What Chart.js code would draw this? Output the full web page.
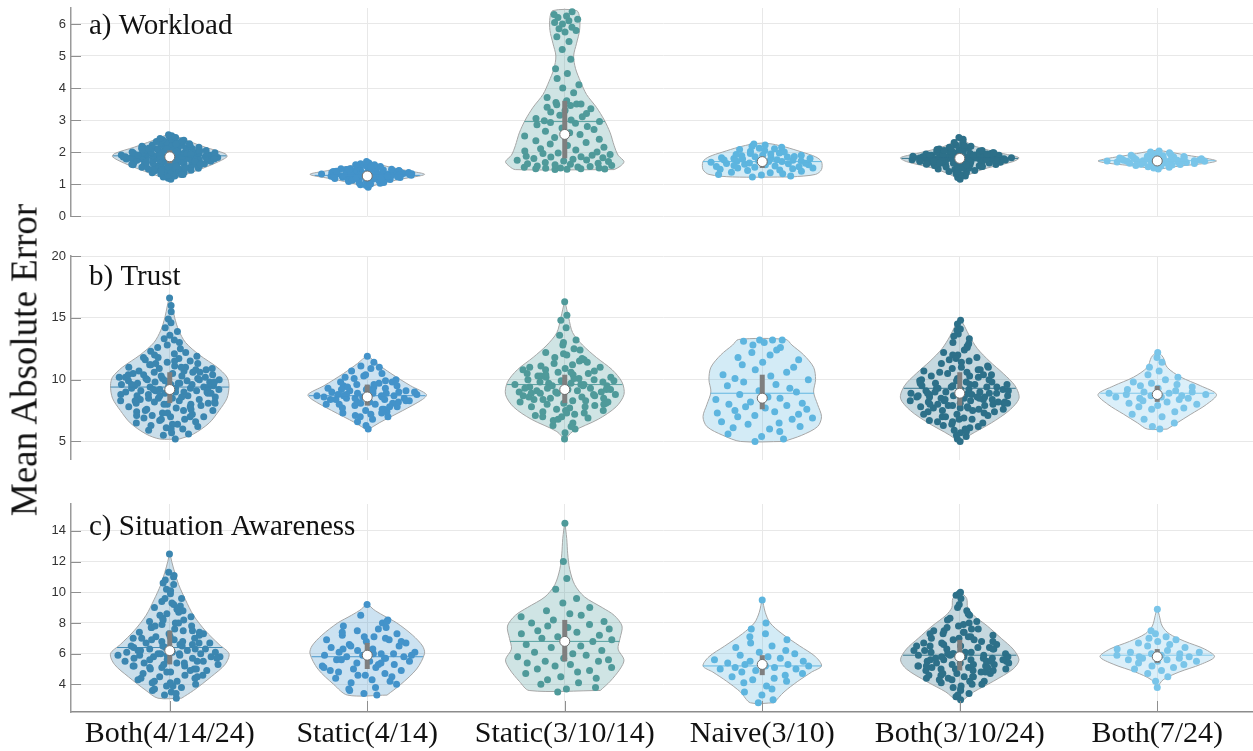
<!DOCTYPE html>
<html>
<head>
<meta charset="utf-8">
<title>Mean Absolute Error</title>
<script src="https://cdn.jsdelivr.net/npm/chart.js@4.4.1/dist/chart.umd.min.js"></script>
<style>
  html, body { margin: 0; padding: 0; background: #fff; overflow: hidden; }
  #wrap { position: relative; width: 1256px; height: 751px; }
  #wrap canvas { position: absolute; left: 0; }
  #yTitle {
    position: absolute; left: 24px; top: 360px;
    transform: translate(-50%, -50%) rotate(-90deg);
    font: 37px "Liberation Serif", "Times New Roman", serif;
    line-height: 1; color: #111; white-space: nowrap;
  }
</style>
</head>
<body>
<div id="wrap">
  <canvas id="workloadChart" width="1256" height="226" style="top:0"></canvas>
  <canvas id="trustChart" width="1256" height="212" style="top:248px"></canvas>
  <canvas id="saChart" width="1256" height="255" style="top:496px"></canvas>
  <div id="yTitle">Mean Absolute Error</div>
</div>
<script>
// ── Shared ────────────────────────────────────────────────────
const CATEGORIES = ['Both(4/14/24)', 'Static(4/14)', 'Static(3/10/14)', 'Naive(3/10)', 'Both(3/10/24)', 'Both(7/24)'];
const COLORS = ['#3b86b0', '#4393ca', '#4f9a9a', '#5db5df', '#2d7089', '#7ac5e9'];

// horizontal spread of each dot, as a fraction of the violin half-width
const JITTER = [
  0.62, -0.35, 0.08, -0.81, 0.47, -0.12, 0.91, -0.58, 0.23, -0.94,
  0.71, -0.27, 0.39, -0.66, 0.02, 0.85, -0.43, 0.54, -0.17, -0.76,
  0.31, 0.97, -0.51, 0.14, -0.88, 0.66, -0.05, 0.44, -0.69, 0.79,
  -0.31, 0.19, -0.98, 0.58, -0.22, 0.05, 0.88, -0.63, 0.35, -0.41,
  0.73, -0.09, -0.84, 0.27, 0.51, -0.55, 0.93, -0.19, 0.11, -0.72,
  0.64, -0.37, 0.82, -0.02, -0.91, 0.42, 0.16, -0.61, 0.76, -0.28,
  0.33, -0.79, 0.57, 0.95, -0.46, -0.14, 0.69, -0.86, 0.24, -0.53,
  0.87, 0.06, -0.33, 0.49, -0.67, 0.81, -0.24, -0.96, 0.37, 0.12,
  -0.48, 0.74, -0.07, 0.59, -0.74, 0.29, -0.39, 0.96, -0.57, 0.18,
  -0.83, 0.52, -0.15, 0.68, -0.45, 0.01, 0.89, -0.62, 0.21, -0.3, 0.45
];

// ── a) Workload ───────────────────────────────────────────────
const wlTicks = [0, 1, 2, 3, 4, 5, 6];
const wlValues = [
  [1.15,1.18,1.2,1.22,1.25,1.27,1.3,1.31,1.33,1.35,1.37,1.39,1.4,1.41,1.42,1.43,1.44,1.45,1.46,1.47,1.48,1.49,1.5,1.51,1.52,1.53,1.54,1.55,1.56,1.57,1.58,1.59,
   1.6,1.61,1.61,1.62,1.63,1.64,1.65,1.65,1.66,1.67,1.68,1.69,1.7,1.7,1.71,1.72,1.73,1.74,1.75,1.75,1.76,1.77,1.78,1.78,1.79,1.79,1.8,1.8,
   1.81,1.81,1.82,1.83,1.83,1.84,1.85,1.85,1.86,1.86,1.87,1.88,1.88,1.89,1.9,1.9,1.9,1.91,1.92,1.92,1.93,1.94,1.94,1.95,1.96,1.96,1.97,1.98,1.98,1.99,2.0,2.0,
   2.01,2.02,2.03,2.04,2.05,2.06,2.07,2.08,2.09,2.1,2.1,2.11,2.12,2.13,2.14,2.15,2.16,2.17,2.18,2.19,2.2,2.2,2.22,2.24,2.26,2.28,2.3,2.31,2.33,2.35,2.37,2.38,2.4,2.42,2.45,2.48,2.51,2.54,
   1.3,1.45,1.55,1.62,1.7,1.76,1.82,1.87,1.91,1.95,2.0,2.05,2.1,2.15,2.25,1.5,1.68,1.78,1.88,1.97,2.08,2.3,1.4,1.6,1.73,1.84,1.93,2.02,2.12,2.35],
  [0.9,0.95,0.98,1.0,1.02,1.04,1.06,1.08,1.1,1.11,1.12,1.13,1.14,1.15,1.16,1.17,1.18,1.19,1.2,1.2,1.21,1.22,1.22,1.23,1.24,1.24,1.25,1.25,1.26,1.27,1.27,1.28,1.28,1.29,1.3,
   1.3,1.3,1.31,1.31,1.32,1.32,1.33,1.33,1.34,1.35,1.35,1.36,1.37,1.37,1.38,1.39,1.4,1.4,1.41,1.42,1.43,1.44,1.45,1.46,1.47,1.48,1.5,1.51,1.53,1.55,1.57,1.6,1.63,1.66,1.7,
   1.05,1.12,1.18,1.22,1.26,1.29,1.31,1.34,1.38,1.42,1.48,1.55,1.2,1.25,1.3,1.33,1.36,1.4,1.15,1.28,1.32,1.45,1.0,1.6,1.24],
  [1.45,1.46,1.47,1.48,1.48,1.49,1.5,1.5,1.52,1.53,1.55,1.56,1.58,1.6,1.62,1.63,1.65,1.67,1.7,1.72,1.74,1.75,1.77,1.8,1.82,1.84,1.85,1.87,1.9,1.92,1.95,1.97,2.0,2.03,2.06,
   2.1,2.15,2.2,2.25,2.3,2.35,2.4,2.45,2.5,2.55,2.6,2.65,2.7,2.75,2.8,2.85,2.9,2.92,2.95,2.98,3.0,3.05,3.1,3.15,3.2,3.25,3.3,3.35,3.4,3.45,3.48,3.5,3.5,3.55,3.6,
   3.7,3.85,4.0,4.1,4.3,4.45,4.6,4.9,5.2,5.45,5.6,5.75,5.8,5.85,5.9,6.0,6.05,6.1,6.15,6.2,6.25,6.3,6.38],
  [1.22,1.25,1.28,1.3,1.32,1.35,1.37,1.4,1.42,1.44,1.46,1.48,1.5,1.5,1.52,1.54,1.55,1.56,1.58,1.6,1.6,1.62,1.63,1.64,1.65,1.66,1.68,1.7,1.7,1.71,
   1.72,1.73,1.74,1.75,1.76,1.78,1.8,1.8,1.81,1.82,1.84,1.85,1.86,1.88,1.9,1.9,1.92,1.94,1.95,1.97,2.0,2.02,2.05,2.08,2.1,2.12,2.15,2.18,2.22,2.25],
  [1.15,1.2,1.25,1.3,1.33,1.36,1.39,1.42,1.45,1.47,1.49,1.51,1.53,1.55,1.56,1.57,1.58,1.59,1.6,1.61,1.62,1.63,1.63,1.64,1.65,1.66,1.66,1.67,1.68,1.68,1.69,1.7,1.7,1.71,
   1.72,1.72,1.73,1.73,1.74,1.75,1.75,1.76,1.76,1.77,1.77,1.78,1.78,1.79,1.79,1.8,1.8,1.8,1.81,1.81,1.82,1.82,1.83,1.83,1.84,1.84,1.85,1.85,1.86,1.86,1.87,1.87,1.88,1.89,
   1.89,1.9,1.9,1.91,1.92,1.93,1.93,1.94,1.95,1.96,1.97,1.98,1.99,2.0,2.01,2.02,2.04,2.05,2.07,2.09,2.11,2.13,2.15,2.18,2.21,2.25,2.3,2.35,2.4,2.45,
   1.4,1.55,1.62,1.68,1.72,1.76,1.8,1.83,1.86,1.9,1.95,2.0,2.08,2.2,1.5,1.65,1.74,1.78,1.82,1.85,1.88,1.92,1.98,2.05,1.6,1.7,1.79,1.84,1.94,2.12],
  [1.47,1.5,1.52,1.54,1.56,1.58,1.59,1.6,1.61,1.62,1.63,1.64,1.65,1.65,1.66,1.67,1.67,1.68,1.68,1.69,1.7,1.7,1.71,1.71,1.72,1.72,1.73,1.73,1.74,1.74,1.75,1.75,
   1.76,1.76,1.77,1.78,1.78,1.79,1.8,1.8,1.81,1.82,1.83,1.84,1.85,1.86,1.87,1.88,1.9,1.92,1.94,1.96,1.98,2.0,2.03]
];
// violin outlines: [value, half-width in category units]
const wlShapes = [
  [[1.13,0],[1.25,0.06],[1.45,0.15],[1.65,0.23],[1.85,0.29],[1.95,0.28],[2.15,0.18],[2.35,0.09],[2.5,0.03],[2.56,0]],
  [[0.88,0],[1.0,0.06],[1.15,0.17],[1.3,0.29],[1.42,0.2],[1.55,0.1],[1.68,0.02],[1.72,0]],
  [[1.45,0.25],[1.55,0.28],[1.7,0.3],[1.9,0.27],[2.2,0.25],[2.6,0.23],[3.0,0.2],[3.4,0.16],[3.8,0.11],[4.2,0.08],[4.6,0.055],[5.0,0.045],[5.4,0.06],[5.8,0.075],[6.2,0.075],[6.42,0.06]],
  [[1.22,0.15],[1.3,0.27],[1.45,0.3],[1.7,0.3],[1.85,0.27],[2.0,0.2],[2.15,0.12],[2.25,0.05],[2.28,0]],
  [[1.12,0],[1.3,0.05],[1.5,0.14],[1.7,0.27],[1.82,0.3],[1.95,0.22],[2.1,0.12],[2.25,0.05],[2.45,0.01],[2.47,0]],
  [[1.45,0],[1.55,0.1],[1.65,0.25],[1.72,0.3],[1.8,0.25],[1.9,0.15],[2.0,0.06],[2.06,0]]
];
const wlMedian = [1.85, 1.25, 2.55, 1.7, 1.8, 1.72];
const wlQ1 = [1.65, 1.15, 1.8, 1.5, 1.65, 1.63];
const wlQ3 = [2.05, 1.38, 3.6, 1.85, 1.92, 1.8];
const wlMean = [1.88, 1.27, 2.95, 1.7, 1.8, 1.73];

// ── b) Trust ──────────────────────────────────────────────────
const trTicks = [5, 10, 15, 20];
const trValues = [
  [5.2,5.5,5.7,5.9,6.0,6.1,6.2,6.3,6.4,6.5,6.6,6.7,6.8,6.9,7.0,7.0,7.1,7.2,7.3,7.4,7.5,7.5,7.6,7.7,7.8,7.9,8.0,8.0,8.1,8.1,8.2,8.3,8.3,8.4,8.5,8.5,8.6,8.7,8.7,8.8,
   8.9,8.9,9.0,9.0,9.1,9.1,9.2,9.2,9.3,9.3,9.4,9.4,9.5,9.5,9.6,9.6,9.7,9.7,9.8,9.8,9.9,9.9,10.0,10.0,10.1,10.1,10.2,10.2,10.3,10.4,10.4,10.5,10.6,10.6,10.7,10.8,10.9,
   11.0,11.0,11.1,11.2,11.3,11.4,11.5,11.6,11.7,11.8,11.9,12.0,12.1,12.3,12.5,12.8,13.0,13.3,13.6,13.9,14.2,14.6,14.9,15.5,16.0,16.6,
   6.4,7.1,7.6,8.0,8.2,8.4,8.6,8.8,9.0,9.1,9.3,9.5,9.6,9.8,10.0,10.1,10.3,10.5,10.7,10.9,11.2,11.5,11.8,12.2,7.3,7.8,8.3,8.9,9.2,9.7,10.2,10.8,6.8,6.0,5.6,
   12.6,13.2,8.5,9.4,9.9,10.4,11.0,7.0,7.5,8.1,8.7,9.0,9.6,10.6,11.3],
  [6.0,6.3,6.6,6.8,7.0,7.1,7.2,7.3,7.4,7.5,7.6,7.7,7.8,7.9,8.0,8.0,8.1,8.2,8.2,8.3,8.4,8.4,8.5,8.5,8.6,8.6,8.7,8.7,8.8,8.8,8.9,8.9,9.0,9.0,9.1,9.1,9.2,
   9.3,9.3,9.4,9.5,9.5,9.6,9.7,9.8,9.9,10.0,10.1,10.3,10.5,10.7,10.9,11.1,11.4,11.9,
   7.0,7.6,8.0,8.3,8.5,8.7,8.9,9.1,9.4,9.8,10.4,7.8,8.4,8.6,8.8,9.0,9.2,9.6,10.2,7.3,8.1,8.2,8.7,9.3,11.0],
  [5.2,5.7,6.0,6.3,6.5,6.7,6.9,7.0,7.1,7.2,7.3,7.4,7.5,7.6,7.7,7.8,7.9,8.0,8.0,8.1,8.2,8.3,8.3,8.4,8.5,8.5,8.6,8.7,8.7,8.8,8.9,8.9,9.0,9.0,9.1,9.1,9.2,9.2,9.3,9.3,
   9.4,9.5,9.5,9.6,9.6,9.7,9.8,9.8,9.9,10.0,10.0,10.1,10.2,10.2,10.3,10.4,10.5,10.5,10.6,10.7,10.8,10.9,11.0,11.1,11.2,11.3,11.5,11.6,11.8,12.0,12.2,12.5,12.8,13.2,13.6,14.2,14.8,15.2,16.3,
   6.2,7.0,7.5,8.1,8.4,8.8,9.0,9.3,9.6,9.9,10.3,10.6,11.0,11.4,12.1,7.8,8.6,9.2,9.7,10.1,10.8,11.7,6.8,7.3,8.2,8.9,9.5,10.4,12.4,13.0],
  [5.0,5.2,5.4,5.6,5.8,6.0,6.1,6.2,6.4,6.5,6.6,6.8,6.9,7.0,7.1,7.2,7.3,7.4,7.5,7.6,7.7,7.8,7.9,8.0,8.1,8.2,8.4,8.5,8.6,8.8,9.0,9.1,9.3,9.5,9.6,9.8,10.0,10.1,10.3,
   10.4,10.6,10.8,11.0,11.2,11.4,11.6,11.8,12.0,12.2,12.4,12.6,12.8,13.0,13.1,13.2,13.2,13.2],
  [5.0,5.2,5.4,5.7,5.9,6.1,6.3,6.5,6.6,6.7,6.8,6.9,7.0,7.1,7.2,7.3,7.4,7.5,7.5,7.6,7.7,7.7,7.8,7.9,7.9,8.0,8.0,8.1,8.1,8.2,8.3,8.3,8.4,8.4,8.5,8.5,8.6,8.6,8.7,8.7,
   8.8,8.8,8.9,8.9,9.0,9.0,9.1,9.2,9.2,9.3,9.4,9.4,9.5,9.6,9.6,9.7,9.8,9.9,10.0,10.1,10.2,10.3,10.4,10.5,10.6,10.7,10.8,10.9,11.0,11.1,11.3,11.5,11.6,11.8,
   12.0,12.2,12.4,12.7,13.0,13.3,13.7,14.1,14.5,14.8,
   5.5,6.2,6.8,7.2,7.6,7.8,8.0,8.2,8.4,8.6,8.7,8.9,9.1,9.3,9.5,9.8,10.0,10.3,10.6,11.0,11.4,12.0,12.6,13.5,7.4,7.9,8.3,8.5,8.8,9.0,9.4,9.9,10.4,6.6,6.0,
   7.0,8.1,8.6,9.2,9.7,10.8,11.7,12.9,14.0,7.7,8.2,8.9,9.6,6.4,5.8],
  [6.0,6.2,6.5,6.8,7.0,7.2,7.4,7.6,7.7,7.8,7.9,8.0,8.1,8.2,8.3,8.4,8.5,8.5,8.6,8.6,8.7,8.7,8.8,8.8,8.9,8.9,9.0,9.0,9.1,9.2,9.3,9.4,9.5,9.6,9.7,9.8,10.0,10.2,
   10.4,10.7,11.0,11.4,11.8,12.2]
];
const trShapes = [
  [[5.2,0.05],[5.6,0.12],[6.5,0.2],[7.5,0.25],[8.5,0.29],[9.5,0.3],[10.2,0.29],[11,0.24],[12,0.15],[13,0.08],[14,0.045],[15,0.025],[16,0.012],[16.8,0]],
  [[5.9,0],[6.5,0.06],[7.5,0.18],[8.4,0.28],[8.8,0.3],[9.5,0.22],[10.5,0.12],[11.3,0.05],[12,0]],
  [[5.1,0],[5.8,0.04],[6.8,0.17],[7.8,0.26],[8.8,0.3],[9.8,0.29],[10.8,0.24],[11.8,0.16],[12.8,0.09],[13.8,0.04],[15,0.02],[16.4,0]],
  [[5.0,0.11],[5.5,0.2],[6.2,0.28],[7.0,0.3],[8.0,0.28],[9.0,0.26],[10.0,0.27],[11.0,0.26],[12.0,0.21],[12.8,0.15],[13.25,0.12]],
  [[4.9,0],[5.5,0.05],[6.5,0.16],[7.5,0.25],[8.5,0.3],[9.5,0.28],[10.5,0.22],[11.5,0.15],[12.5,0.09],[13.5,0.05],[14.3,0.025],[15,0]],
  [[6.0,0.05],[6.5,0.1],[7.2,0.17],[8.0,0.25],[8.8,0.3],[9.5,0.22],[10.2,0.12],[11,0.05],[11.8,0.03],[12.3,0]]
];
const trMedian = [9.2, 8.6, 9.2, 8.5, 8.9, 8.8];
const trQ1 = [8.1, 7.9, 8.1, 7.6, 7.9, 8.2];
const trQ3 = [10.6, 9.6, 10.4, 10.4, 10.6, 9.5];
const trMean = [9.4, 8.7, 9.6, 8.9, 9.3, 8.9];

// ── c) Situation Awareness ────────────────────────────────────
const saTicks = [4, 6, 8, 10, 12, 14];
const saValues = [
  [3.1,3.3,3.5,3.6,3.8,3.9,4.0,4.1,4.2,4.3,4.4,4.5,4.6,4.7,4.8,4.9,5.0,5.0,5.1,5.2,5.2,5.3,5.4,5.4,5.5,5.5,5.6,5.7,5.7,5.8,5.8,5.9,5.9,6.0,6.0,6.1,6.1,6.2,6.2,
   6.3,6.3,6.4,6.5,6.5,6.6,6.7,6.7,6.8,6.9,7.0,7.0,7.1,7.2,7.3,7.4,7.5,7.6,7.7,7.8,7.9,8.0,8.1,8.2,8.4,8.5,8.6,8.8,9.0,9.2,9.4,9.6,9.9,10.2,10.5,10.8,11.1,11.3,12.5,
   3.4,3.9,4.2,4.5,4.8,5.0,5.2,5.4,5.6,5.8,5.9,6.0,6.1,6.3,6.5,6.7,6.9,7.1,7.4,7.7,8.0,8.3,8.7,9.1,9.6,10.1,4.4,4.9,5.3,5.7,6.2,6.6,7.0,7.5,8.2,8.9,
   3.7,4.1,4.6,5.1,5.5,6.0,6.4,6.8,7.3,7.8,9.3,10.6,11.0,5.9],
  [3.3,3.4,3.6,3.8,4.0,4.1,4.3,4.4,4.5,4.6,4.7,4.8,4.9,5.0,5.1,5.2,5.3,5.4,5.5,5.5,5.6,5.7,5.8,5.8,5.9,5.9,6.0,6.0,6.1,6.1,6.2,6.3,6.4,6.5,6.6,6.7,6.8,6.9,
   7.0,7.1,7.2,7.3,7.5,7.6,7.8,8.0,8.2,8.5,9.2,
   4.2,4.9,5.3,5.6,5.9,6.2,6.5,6.9,7.4,8.1,4.6,5.1,5.7,6.0,6.3,6.8,7.1,7.7,3.7,5.4],
  [3.5,3.7,3.8,4.0,4.1,4.3,4.4,4.5,4.7,4.8,4.9,5.0,5.1,5.2,5.3,5.4,5.5,5.5,5.6,5.7,5.8,5.9,6.0,6.1,6.2,6.4,6.5,6.6,6.8,6.9,7.0,7.1,7.2,7.3,7.4,7.5,7.6,7.7,
   7.8,7.9,8.0,8.1,8.2,8.4,8.5,8.6,8.8,9.0,9.3,9.6,10.2,10.9,12.0,14.5],
  [2.8,3.0,3.3,3.5,3.7,3.9,4.1,4.2,4.3,4.4,4.5,4.6,4.7,4.8,4.9,5.0,5.0,5.1,5.1,5.2,5.2,5.3,5.3,5.4,5.5,5.5,5.6,5.7,5.8,5.9,6.0,6.1,6.2,6.4,6.5,6.7,6.9,7.1,7.3,7.6,8.0,9.5],
  [3.0,3.2,3.4,3.6,3.8,4.0,4.1,4.2,4.3,4.4,4.5,4.5,4.6,4.7,4.7,4.8,4.9,4.9,5.0,5.0,5.1,5.1,5.2,5.2,5.3,5.3,5.4,5.4,5.5,5.5,5.6,5.6,5.7,5.7,5.8,5.8,5.9,5.9,
   6.0,6.0,6.1,6.1,6.2,6.3,6.3,6.4,6.5,6.5,6.6,6.7,6.8,6.9,7.0,7.1,7.2,7.3,7.4,7.5,7.6,7.8,8.0,8.2,8.5,9.0,9.6,9.8,10.0,
   3.3,3.7,4.0,4.3,4.5,4.7,4.9,5.0,5.2,5.3,5.5,5.6,5.8,5.9,6.1,6.2,6.4,6.6,6.8,7.0,7.3,7.6,7.9,8.3,8.8,9.9,4.2,4.6,5.1,5.4,5.7,6.0,6.3,6.7,7.1,7.5,8.1,
   3.9,4.4,4.8,5.2,5.6,6.0,6.5,6.9,7.4,7.7,8.6,9.2,5.5],
  [3.8,4.2,4.5,4.7,4.9,5.0,5.1,5.2,5.3,5.4,5.5,5.5,5.6,5.6,5.7,5.7,5.8,5.8,5.9,5.9,6.0,6.0,6.1,6.1,6.2,6.3,6.4,6.5,6.6,6.7,6.8,6.9,7.0,7.1,7.3,7.5,8.9]
];
const saShapes = [
  [[3.1,0.06],[3.6,0.12],[4.5,0.21],[5.3,0.28],[6.0,0.3],[6.6,0.25],[7.5,0.18],[8.5,0.12],[9.5,0.08],[10.5,0.045],[11.3,0.025],[12,0.01],[12.6,0]],
  [[3.3,0.1],[4,0.17],[5,0.25],[6,0.29],[6.5,0.28],[7.2,0.23],[8,0.15],[8.5,0.08],[8.9,0.03],[9.3,0]],
  [[3.6,0.18],[4.2,0.23],[5.0,0.28],[5.6,0.3],[6.3,0.27],[7.0,0.28],[7.8,0.29],[8.5,0.25],[9.0,0.19],[9.7,0.1],[10.5,0.05],[11.5,0.025],[12.5,0.015],[13.5,0.01],[14.6,0]],
  [[2.8,0.06],[3.5,0.11],[4.2,0.18],[4.8,0.25],[5.2,0.3],[5.8,0.27],[6.5,0.19],[7.3,0.1],[8,0.04],[8.7,0.015],[9.6,0]],
  [[3.0,0.02],[3.5,0.07],[4.2,0.17],[5.0,0.27],[5.6,0.3],[6.3,0.27],[7.0,0.21],[7.8,0.14],[8.5,0.07],[9.0,0.04],[9.6,0.035],[10.1,0]],
  [[3.8,0],[4.3,0.03],[4.8,0.11],[5.3,0.22],[5.8,0.29],[6.3,0.24],[6.8,0.14],[7.3,0.06],[7.8,0.025],[8.5,0.01],[9.0,0]]
];
const saMedian = [6.2, 5.9, 6.8, 5.3, 5.8, 5.8];
const saQ1 = [5.3, 5.0, 5.5, 4.6, 4.9, 5.4];
const saQ3 = [7.5, 6.7, 8.2, 5.9, 6.9, 6.3];
const saMean = [6.4, 5.8, 6.8, 5.2, 5.9, 5.9];

// ── Helpers ───────────────────────────────────────────────────
function hexA(hex, a) {
  const n = parseInt(hex.slice(1), 16);
  return `rgba(${n >> 16},${(n >> 8) & 255},${n & 255},${a})`;
}

// linear lookup of the violin half-width at a given value
function halfWidth(shape, y) {
  if (y <= shape[0][0]) return shape[0][1];
  for (let i = 1; i < shape.length; i++) {
    if (y <= shape[i][0]) {
      const [y0, w0] = shape[i - 1];
      const [y1, w1] = shape[i];
      return w0 + (w1 - w0) * (y - y0) / (y1 - y0);
    }
  }
  return shape[shape.length - 1][1];
}

function violinDatasets(p) {
  const sets = [];
  CATEGORIES.forEach((name, i) => {
    const c = i + 1;
    const shape = p.shapes[i];
    const color = COLORS[i];

    // closed outline: right side upwards, left side back down
    const outline = shape.map(([y, w]) => ({ x: c + w, y }))
      .concat(shape.slice().reverse().map(([y, w]) => ({ x: c - w, y })));
    outline.push(outline[0]);
    sets.push({
      type: 'line', data: outline, showLine: true, fill: 'shape', tension: 0.3,
      backgroundColor: hexA(color, 0.27), borderColor: '#a6a6a6', borderWidth: 1,
      pointRadius: 0, order: 50
    });

    sets.push({
      type: 'scatter', order: 40,
      data: p.values[i].map((y, k) => ({
        x: c + JITTER[(k + i * 17) % JITTER.length] * halfWidth(shape, y) * 0.9, y
      })),
      pointRadius: 3.5, backgroundColor: color, borderWidth: 0
    });

    const mw = halfWidth(shape, p.mean[i]);
    sets.push({
      type: 'line', showLine: true, order: 30, pointRadius: 0,
      data: [{ x: c - mw, y: p.mean[i] }, { x: c + mw, y: p.mean[i] }],
      borderColor: hexA(color, 0.95), borderWidth: 1
    });

    sets.push({
      type: 'line', showLine: true, order: 20, pointRadius: 0,
      data: [{ x: c, y: p.q1[i] }, { x: c, y: p.q3[i] }],
      borderColor: '#7f7f7f', borderWidth: 5, borderCapStyle: 'butt'
    });

    sets.push({
      type: 'scatter', order: 10,
      data: [{ x: c, y: p.median[i] }],
      pointRadius: 5, backgroundColor: '#ffffff', borderColor: '#6e6e6e', borderWidth: 1
    });
  });
  return sets;
}

// inward tick marks and the panel caption
const panelFrame = {
  id: 'panelFrame',
  afterDraw(chart, args, opts) {
    const { ctx, chartArea: a, scales: { x, y } } = chart;
    ctx.save();
    ctx.strokeStyle = '#8f8f8f';
    ctx.lineWidth = 1;
    ctx.beginPath();
    y.ticks.forEach(t => {
      const py = Math.round(y.getPixelForValue(t.value)) + 0.5;
      ctx.moveTo(a.left, py);
      ctx.lineTo(a.left + 10, py);
    });
    if (opts.xTicks) {
      x.ticks.forEach(t => {
        const px = Math.round(x.getPixelForValue(t.value)) + 0.5;
        ctx.moveTo(px, a.bottom);
        ctx.lineTo(px, a.bottom - 11);
      });
    }
    ctx.stroke();
    ctx.fillStyle = '#111';
    ctx.font = '29px "Liberation Serif", "Times New Roman", serif';
    ctx.textBaseline = 'alphabetic';
    ctx.fillText(opts.title, 89, opts.titleY);
    ctx.restore();
  }
};

function buildPanel(p) {
  new Chart(document.getElementById(p.canvas), {
    type: 'scatter',
    data: { datasets: violinDatasets(p) },
    plugins: [panelFrame],
    options: {
      responsive: false,
      animation: false,
      events: [],
      devicePixelRatio: 1,
      layout: { autoPadding: false, padding: { top: 8, left: 0, right: 0, bottom: p.padBottom } },
      plugins: {
        legend: { display: false },
        tooltip: { enabled: false },
        panelFrame: { title: p.title, titleY: p.titleY, xTicks: p.showX }
      },
      scales: {
        x: {
          type: 'linear', min: 0.5, max: 6.5,
          afterBuildTicks: s => { s.ticks = CATEGORIES.map((c, i) => ({ value: i + 1 })); },
          afterFit: s => { s.height = p.showX ? 39 : 0; s.paddingLeft = 0; s.paddingRight = 0; },
          grid: { color: '#e8e8e8', drawTicks: false },
          border: { display: p.showX, color: '#8c8c8c', width: 1.5 },
          ticks: {
            display: p.showX, padding: 4, color: '#111',
            font: { family: '"Liberation Serif", "Times New Roman", serif', size: 30 },
            callback: v => CATEGORIES[Math.round(v) - 1]
          }
        },
        y: {
          type: 'linear', min: p.min, max: p.max,
          afterBuildTicks: s => { s.ticks = p.ticks.map(v => ({ value: v })); },
          // fixed axis width, and no extra room for half tick labels
          afterFit: s => { s.width = 71; s.paddingTop = 0; s.paddingBottom = 0; },
          grid: { color: '#e8e8e8', drawTicks: false },
          border: { color: '#9a9a9a', width: 1.5 },
          ticks: {
            padding: 5, color: '#333',
            font: { family: '"Liberation Sans", Arial, sans-serif', size: 13 }
          }
        }
      }
    }
  });
}

// ── Init ──────────────────────────────────────────────────────
[
  { canvas: 'workloadChart', title: 'a) Workload', titleY: 34, min: 0, max: 6.5, ticks: wlTicks, padBottom: 10,
    values: wlValues, shapes: wlShapes, median: wlMedian, q1: wlQ1, q3: wlQ3, mean: wlMean, showX: false },
  { canvas: 'trustChart', title: 'b) Trust', titleY: 37, min: 3.5, max: 20, ticks: trTicks, padBottom: 0,
    values: trValues, shapes: trShapes, median: trMedian, q1: trQ1, q3: trQ3, mean: trMean, showX: false },
  { canvas: 'saChart', title: 'c) Situation Awareness', titleY: 39, min: 2.2, max: 15.75, ticks: saTicks, padBottom: 0,
    values: saValues, shapes: saShapes, median: saMedian, q1: saQ1, q3: saQ3, mean: saMean, showX: true }
].forEach(buildPanel);
</script>
</body>
</html>
